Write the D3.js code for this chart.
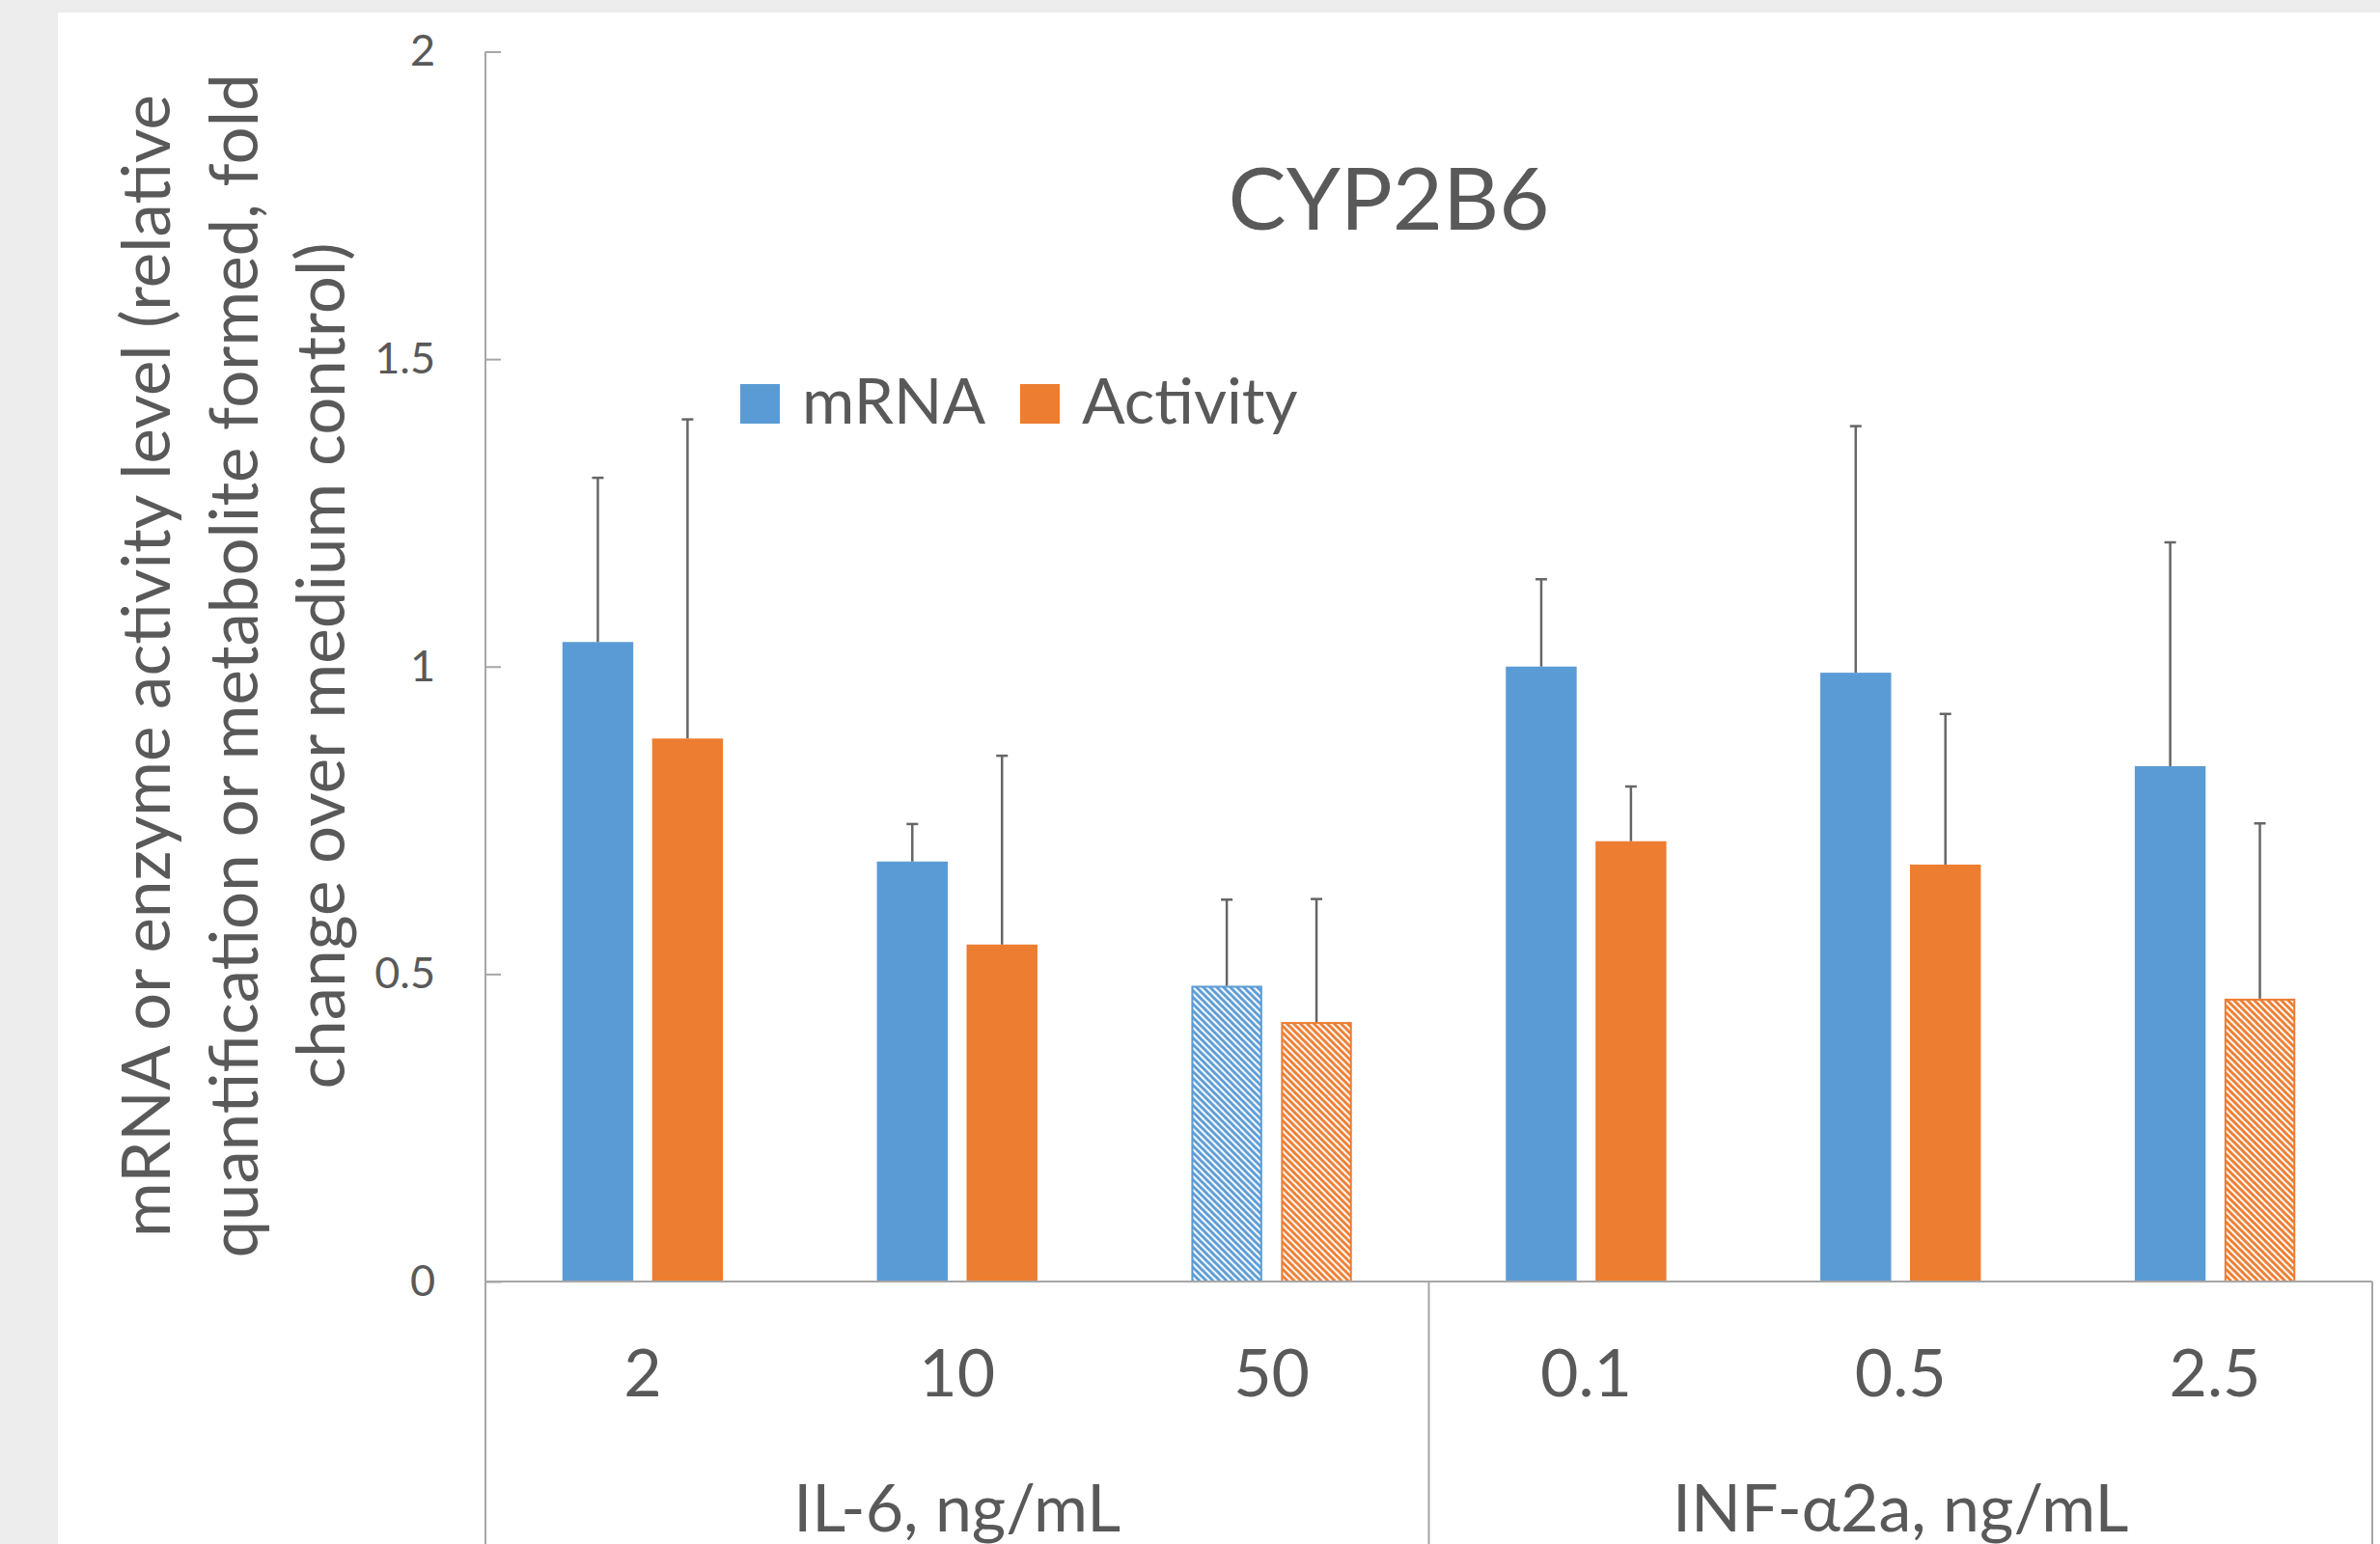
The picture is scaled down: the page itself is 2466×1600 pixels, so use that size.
<!DOCTYPE html>
<html>
<head>
<meta charset="utf-8">
<script src="https://cdn.jsdelivr.net/npm/d3@7"></script>
<style>
  html, body { margin: 0; padding: 0; background: #EDEDED; }
  svg { display: block; }
  text { font-family: Lato, "Open Sans", sans-serif; fill: #595959; }
</style>
</head>
<body>
<script>
// ---------------- data ----------------
const categories = ["2", "10", "50", "0.1", "0.5", "2.5"];
const categoryGroup = [0, 0, 0, 1, 1, 1];
const groupLabels = ["IL-6, ng/mL", "INF-α2a, ng/mL"];
const seriesNames = ["mRNA", "Activity"];
const mrnaValues = [1.04, 0.683, 0.481, 1.00, 0.99, 0.838];
const mrnaErrors = [0.267, 0.061, 0.140, 0.142, 0.401, 0.364];
const activityValues = [0.883, 0.548, 0.422, 0.716, 0.678, 0.46];
const activityErrors = [0.519, 0.307, 0.200, 0.089, 0.245, 0.285];
const mrnaHatched = [false, false, true, false, false, false];
const activityHatched = [false, false, true, false, false, true];
const yTicks = [0, 0.5, 1, 1.5, 2];
const titleText = "CYP2B6";
const yTitleLines = [
  "mRNA or enzyme activity level (relative",
  "quantification or metabolite formed, fold",
  "change over medium control)"
];

// ---------------- layout ----------------
const W = 2466, H = 1600;
const colors = { mRNA: "#5B9BD5", Activity: "#ED7D31" };
const axisColor = "#A6A6A6";
const textColor = "#595959";

const svg = d3.select("body").append("svg").attr("width", W).attr("height", H);

svg.append("rect").attr("x", 60).attr("y", 13).attr("width", W - 60).attr("height", H - 13).attr("fill", "#FFFFFF");

// hatch patterns
const defs = svg.append("defs");
seriesNames.forEach(s => {
  const p = defs.append("pattern")
    .attr("id", "hatch-" + s)
    .attr("patternUnits", "userSpaceOnUse")
    .attr("width", 7).attr("height", 7);
  p.append("rect").attr("width", 7).attr("height", 7).attr("fill", "#FFFFFF");
  p.append("path")
    .attr("d", "M-2,-2 L9,9 M-2,5 L2,9 M5,-2 L9,2")
    .attr("stroke", colors[s]).attr("stroke-width", 3);
});

const x0 = d3.scaleBand().domain(categories).range([503, 2458]).paddingInner(0).paddingOuter(0);
const x1 = d3.scaleBand().domain(seriesNames).range([0, x0.bandwidth()]).paddingInner(0.21).paddingOuter(0.858);
const y = d3.scaleLinear().domain([0, 2]).range([1328, 53.5]);

const rows = categories.map((c, i) => ({
  cat: c,
  bars: [
    { series: "mRNA", value: mrnaValues[i], err: mrnaErrors[i], hatched: mrnaHatched[i] },
    { series: "Activity", value: activityValues[i], err: activityErrors[i], hatched: activityHatched[i] }
  ]
}));

// title
svg.append("text")
  .attr("x", 1439).attr("y", 238)
  .attr("text-anchor", "middle")
  .attr("font-size", 90)
  .text(titleText);

// y axis title
yTitleLines.forEach((line, i) => {
  svg.append("text")
    .attr("transform", `translate(${[176, 267, 357][i]},690) rotate(-90)`)
    .attr("text-anchor", "middle")
    .attr("font-size", 69)
    .text(line);
});

// y axis
const yAxis = d3.axisLeft(y).tickValues(yTicks).tickSize(-16).tickPadding(52)
  .tickFormat(d => d3.format("")(d));
const gy = svg.append("g").attr("transform", "translate(503,0)").call(yAxis);
gy.select(".domain").remove();
gy.selectAll(".tick line").attr("stroke", axisColor).attr("stroke-width", 2);
gy.selectAll(".tick text").attr("font-size", 45).attr("fill", textColor)
  .attr("font-family", "Lato, 'Open Sans', sans-serif");
// y axis line (continues down through category area)
svg.append("line").attr("x1", 503).attr("x2", 503).attr("y1", y(2)).attr("y2", H)
  .attr("stroke", axisColor).attr("stroke-width", 2);

// bars
const g = svg.append("g");
const cg = g.selectAll("g.cat").data(rows).join("g")
  .attr("class", "cat")
  .attr("transform", d => `translate(${x0(d.cat)},0)`);

cg.selectAll("rect").data(d => d.bars).join("rect")
  .attr("x", d => x1(d.series) + (d.hatched ? 1 : 0))
  .attr("y", d => y(d.value) + (d.hatched ? 1 : 0))
  .attr("width", d => x1.bandwidth() - (d.hatched ? 2 : 0))
  .attr("height", d => y(0) - y(d.value) - (d.hatched ? 1 : 0))
  .attr("fill", d => d.hatched ? `url(#hatch-${d.series})` : colors[d.series])
  .attr("stroke", d => d.hatched ? colors[d.series] : "none")
  .attr("stroke-width", 2);

// error bars (positive only)
const eb = cg.selectAll("g.err").data(d => d.bars).join("g").attr("class", "err");
eb.append("line")
  .attr("x1", d => x1(d.series) + x1.bandwidth() / 2)
  .attr("x2", d => x1(d.series) + x1.bandwidth() / 2)
  .attr("y1", d => y(d.value))
  .attr("y2", d => y(d.value + d.err))
  .attr("stroke", "#666666").attr("stroke-width", 2.5);
eb.append("line")
  .attr("x1", d => x1(d.series) + x1.bandwidth() / 2 - 6)
  .attr("x2", d => x1(d.series) + x1.bandwidth() / 2 + 6)
  .attr("y1", d => y(d.value + d.err))
  .attr("y2", d => y(d.value + d.err))
  .attr("stroke", "#666666").attr("stroke-width", 2.5);

// x axis line
svg.append("line").attr("x1", 503).attr("x2", 2458).attr("y1", y(0)).attr("y2", y(0))
  .attr("stroke", axisColor).attr("stroke-width", 2);

// category group separators
const groupIdx = d3.range(groupLabels.length);
const groupSpan = gi => {
  const cats = categories.filter((c, i) => categoryGroup[i] === gi);
  return [x0(cats[0]), x0(cats[cats.length - 1]) + x0.bandwidth()];
};
groupIdx.forEach(gi => {
  const [a, b] = groupSpan(gi);
  svg.append("line").attr("x1", b).attr("x2", b).attr("y1", y(0)).attr("y2", H)
    .attr("stroke", axisColor).attr("stroke-width", 2);
  svg.append("text")
    .attr("x", (a + b) / 2).attr("y", 1587)
    .attr("text-anchor", "middle").attr("font-size", 68)
    .text(groupLabels[gi]);
});

// category labels
svg.selectAll("text.cat").data(categories).join("text")
  .attr("class", "cat")
  .attr("x", d => x0(d) + x0.bandwidth() / 2)
  .attr("y", 1447)
  .attr("text-anchor", "middle")
  .attr("font-size", 68)
  .text(d => d);

// legend
const legendX = [767, 1057];
seriesNames.forEach((s, i) => {
  svg.append("rect").attr("x", legendX[i]).attr("y", 398).attr("width", 41).attr("height", 41)
    .attr("fill", colors[s]);
  svg.append("text").attr("x", legendX[i] + 64).attr("y", 439)
    .attr("font-size", 66).text(s);
});
</script>
</body>
</html>
